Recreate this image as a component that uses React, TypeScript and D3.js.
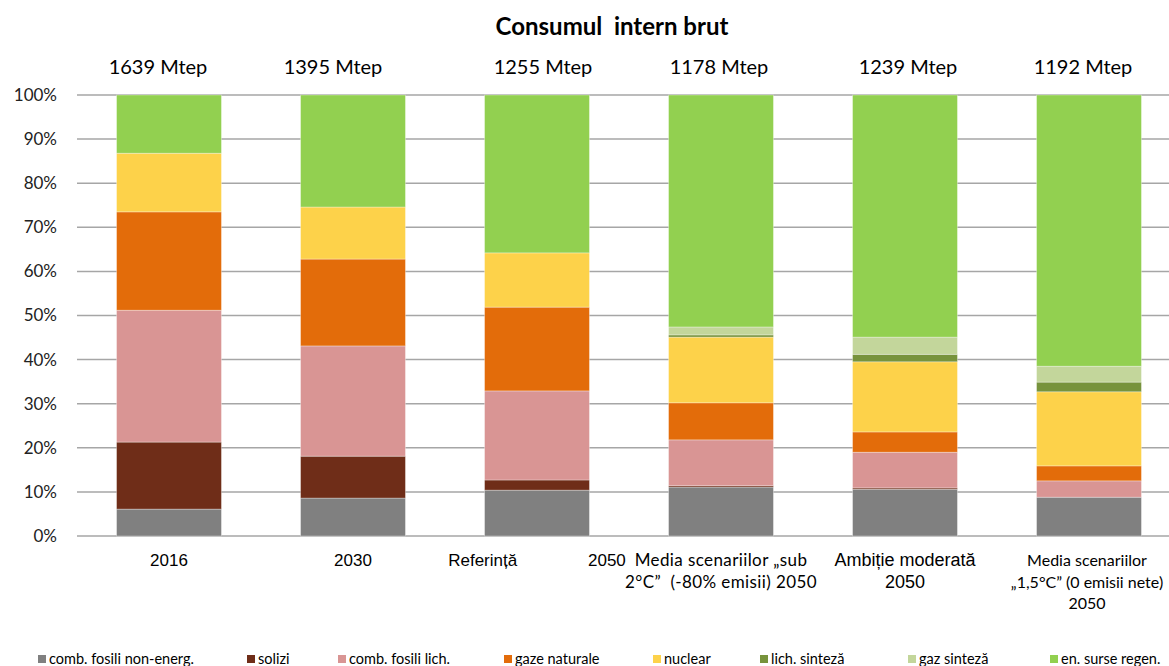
import { useEffect, useRef } from "react";
import * as d3 from "d3";

const categories = ["2016", "2030", "Referinta", "sub2", "ambitie", "1.5"];
const totals = ["1639 Mtep", "1395 Mtep", "1255 Mtep", "1178 Mtep", "1239 Mtep", "1192 Mtep"];
const catLabels = [
  ["2016"],
  ["2030"],
  ["Referință               2050"],
  ["Media scenariilor „sub", "2°C”  (-80% emisii) 2050"],
  ["Ambiție moderată", "2050"],
  ["Media scenariilor", "„1,5°C” (0 emisii nete)", "2050"],
];

const seriesNames = [
  "comb. fosili non-energ.",
  "solizi",
  "comb. fosili lich.",
  "gaze naturale",
  "nuclear",
  "lich. sinteză",
  "gaz sinteză",
  "en. surse regen.",
];
const colors = ["#808080", "#6f2d18", "#d99594", "#e36c0a", "#fdd24a", "#77933c", "#c3d69b", "#92d050"];

// shares in %, one array per series, in category order
const fosiliNonEnerg = [6.1, 8.6, 10.4, 11.1, 10.6, 8.8];
const solizi = [15.2, 9.5, 2.3, 0.3, 0.3, 0.0];
const fosiliLich = [29.9, 25.0, 20.2, 10.4, 8.1, 3.7];
const gazeNaturale = [22.3, 19.7, 19.0, 8.4, 4.6, 3.4];
const nuclear = [13.3, 11.8, 12.3, 14.9, 15.9, 16.8];
const lichSinteza = [0.0, 0.0, 0.0, 0.5, 1.7, 2.2];
const gazSinteza = [0.0, 0.0, 0.0, 1.8, 3.9, 3.6];
const regenerabile = [13.2, 25.4, 35.8, 52.6, 54.9, 61.5];

const yTicks = [0, 10, 20, 30, 40, 50, 60, 70, 80, 90, 100];

const W = 1169;
const H = 666;

export default function App() {
  const ref = useRef(null);

  useEffect(() => {
    const svg = d3.select(ref.current);
    svg.selectAll("*").remove();

    const all = [fosiliNonEnerg, solizi, fosiliLich, gazeNaturale, nuclear, lichSinteza, gazSinteza, regenerabile];
    const rows = categories.map((c, i) => {
      const r: any = { cat: c };
      seriesNames.forEach((s, j) => (r[s] = all[j][i]));
      return r;
    });
    const stacked = d3.stack().keys(seriesNames)(rows);

    const x = d3.scaleBand().domain(categories).range([77, 77 + 6 * 184]).paddingInner(0.43).paddingOuter(0.215);
    const y = d3.scaleLinear().domain([0, 100]).range([536, 95]);
    const cx = (i) => x(categories[i]) + x.bandwidth() / 2;

    // gridlines
    svg
      .append("g")
      .selectAll("line")
      .data(yTicks)
      .join("line")
      .attr("x1", 77)
      .attr("x2", W)
      .attr("y1", (d) => y(d))
      .attr("y2", (d) => y(d))
      .attr("stroke", "#a6a6a6")
      .attr("stroke-width", 1.5);

    svg
      .append("g")
      .selectAll("text")
      .data(yTicks)
      .join("text")
      .attr("x", 57)
      .attr("y", (d) => y(d))
      .attr("dy", "0.35em")
      .attr("text-anchor", "end")
      .attr("font-family", "Lato")
      .attr("font-size", 17)
      .attr("fill", "#222")
      .text((d) => d + "%");

    // bars
    svg
      .append("g")
      .selectAll("g")
      .data(stacked)
      .join("g")
      .attr("fill", (d, i) => colors[i])
      .selectAll("rect")
      .data((d) => d)
      .join("rect")
      .attr("x", (d) => x(d.data.cat))
      .attr("width", x.bandwidth())
      .attr("y", (d) => y(d[1]))
      .attr("height", (d) => y(d[0]) - y(d[1]))
      .attr("stroke", "#ffffff")
      .attr("stroke-opacity", 0.4)
      .attr("stroke-width", (d) => (d[1] - d[0] > 0 ? 0.8 : 0));

    // title
    svg
      .append("text")
      .attr("x", 612)
      .attr("y", 35)
      .attr("text-anchor", "middle")
      .attr("font-family", "Lato")
      .attr("font-weight", "bold")
      .attr("font-size", 24)
      .attr("fill", "#000")
      .style("white-space", "pre")
      .text("Consumul  intern brut");

    // totals (text boxes sit a little off the bar centres)
    const totalDx = [-11, -20, 6, -2, 3, -6];
    svg
      .append("g")
      .selectAll("text")
      .data(totals)
      .join("text")
      .attr("x", (d, i) => cx(i) + totalDx[i])
      .attr("y", 74)
      .attr("text-anchor", "middle")
      .attr("font-family", "Lato")
      .attr("font-size", 20)
      .attr("fill", "#000")
      .text((d) => d);

    // category labels
    const catFont = ["Liberation Sans", "Liberation Sans", "Liberation Sans", "Lato", "Liberation Sans", "Lato"];
    const catSize = [17, 17, 17, 17, 18, 16];
    const catSpacing = [0, 0, 0, 0.4, 0, 0];
    const labels = svg.append("g");
    catLabels.forEach((lines, i) => {
      const t = labels
        .append("text")
        .attr("text-anchor", "middle")
        .attr("font-family", catFont[i])
        .attr("font-size", catSize[i])
        .attr("letter-spacing", catSpacing[i])
        .attr("fill", "#000")
        .style("white-space", "pre");
      lines.forEach((ln, k) => {
        t.append("tspan")
          .attr("x", cx(i) - (i === 5 ? 2 : 0))
          .attr("y", 566 + k * 21.5)
          .text(ln);
      });
    });

    // legend
    const legendX = [38, 247, 338, 504, 653, 760, 908, 1050];
    const lg = svg
      .append("g")
      .selectAll("g")
      .data(seriesNames)
      .join("g")
      .attr("transform", (d, i) => `translate(${legendX[i]},655)`);
    lg.append("rect").attr("width", 8).attr("height", 8).attr("fill", (d, i) => colors[i]);
    lg.append("text")
      .attr("x", 11)
      .attr("y", 9)
      .attr("font-family", "Lato")
      .attr("font-size", 14.5)
      .attr("fill", "#000")
      .text((d) => d);
  }, []);

  return (
    <svg
      ref={ref}
      width={W}
      height={H}
      style={{ position: "absolute", left: 0, top: 0, background: "#fff" }}
    />
  );
}
